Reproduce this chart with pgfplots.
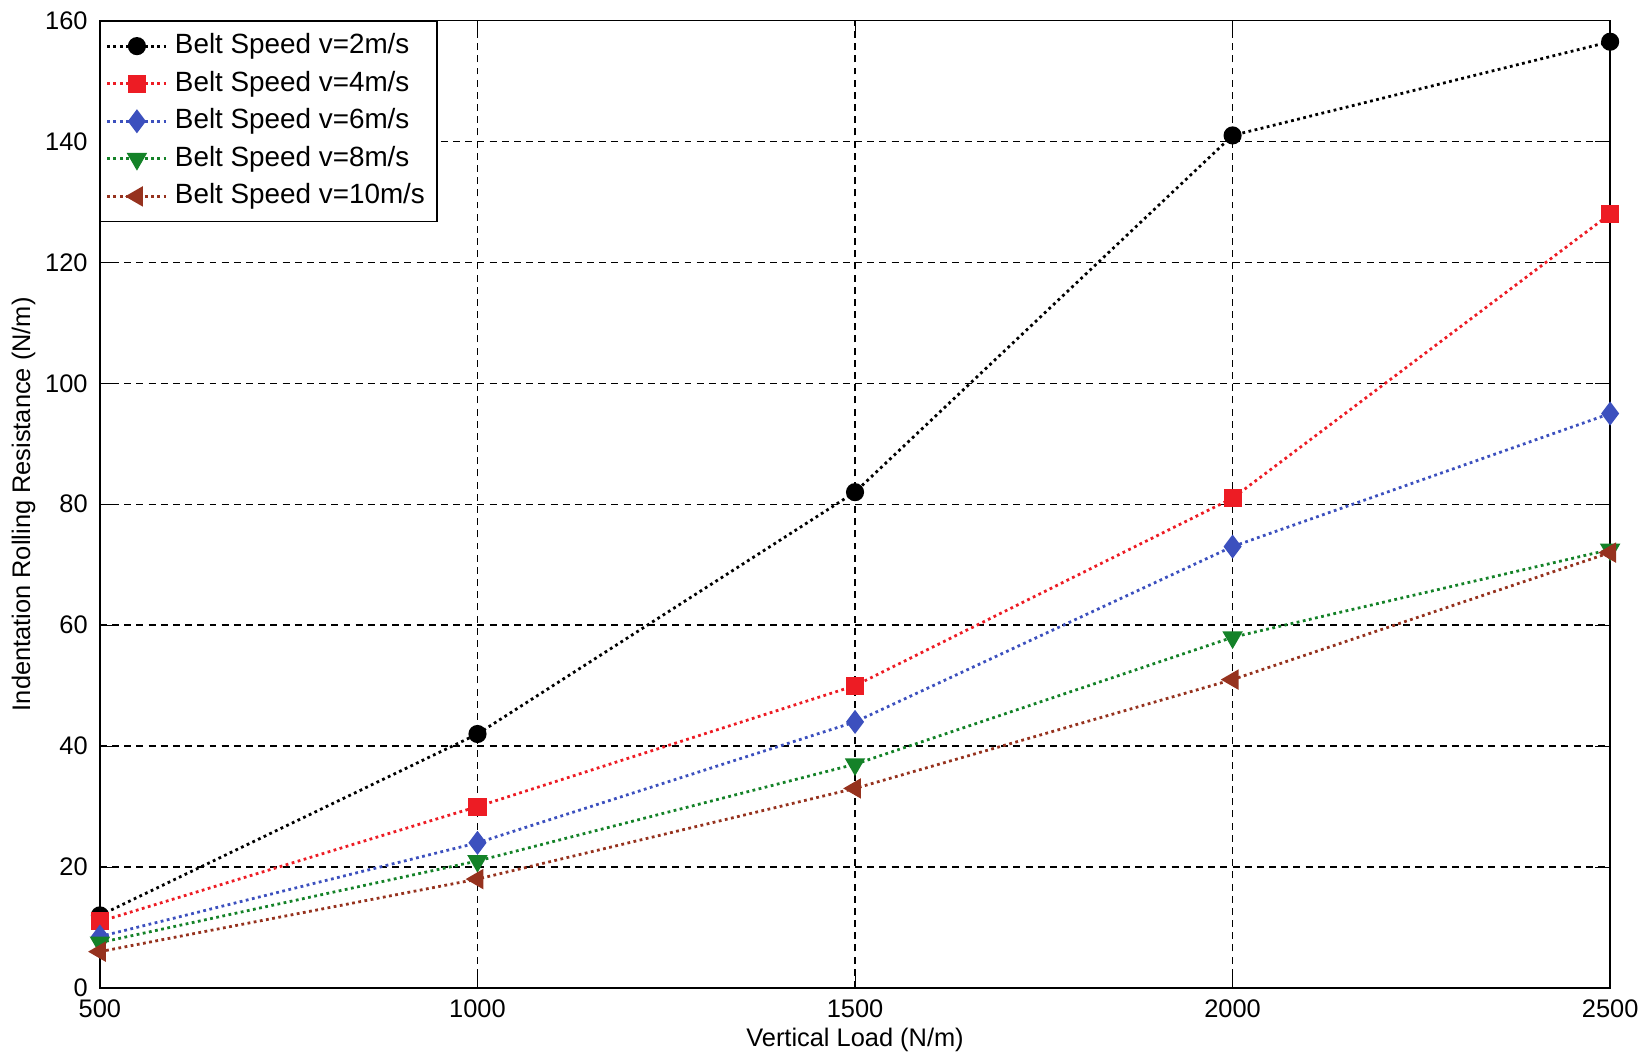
\documentclass[border=0pt]{standalone}
\usepackage{pgfplots}
\pgfplotsset{compat=1.18}
\usepackage{fontspec}
\setmainfont{Liberation Sans}
\definecolor{c1}{RGB}{0,0,0}
\definecolor{c2}{RGB}{237,28,36}
\definecolor{c3}{RGB}{60,80,190}
\definecolor{c4}{RGB}{20,130,40}
\definecolor{c5}{RGB}{150,50,30}
\begin{document}
\begin{tikzpicture}
\begin{axis}[
  scale only axis, width=434pt, height=278pt,
  xmin=500, xmax=2500, ymin=0, ymax=160,
  xtick={500,1000,1500,2000,2500}, ytick={0,20,...,160},
  grid=major, grid style={dash pattern=on 2pt off 1.5pt, black, thin},
  axis line style={black, thin},
  tick align=inside, tick style={black},
  /pgf/number format/assume math mode=true,
  /pgf/number format/set thousands separator={},
  tick label style={font=\fontsize{7.3}{8}\selectfont},
  label style={font=\fontsize{7.3}{8}\selectfont},
  xlabel={Vertical Load (N/m)}, ylabel={Indentation Rolling Resistance (N/m)},
  xlabel style={yshift=4pt}, ylabel style={yshift=-4pt},
  legend style={font=\fontsize{8}{9}\selectfont, draw=black, inner sep=1.5pt, row sep=-0.5pt, at={(0,1)}, anchor=north west},
  legend cell align=left,
  every axis plot/.append style={densely dotted, thick, mark options={solid, scale=1.1}},
]
\addplot[c1, mark=*] coordinates {(500,12)(1000,42)(1500,82)(2000,141)(2500,156.5)};
\addlegendentry{Belt Speed v=2m/s}
\addplot[c2, mark=square*] coordinates {(500,11)(1000,30)(1500,50)(2000,81)(2500,128)};
\addlegendentry{Belt Speed v=4m/s}
\addplot[c3, mark=diamond*, mark options={solid, scale=1.4}] coordinates {(500,8.5)(1000,24)(1500,44)(2000,73)(2500,95)};
\addlegendentry{Belt Speed v=6m/s}
\addplot[c4, mark=triangle*, mark options={solid, rotate=180, scale=1.3}] coordinates {(500,7.5)(1000,21)(1500,37)(2000,58)(2500,72.5)};
\addlegendentry{Belt Speed v=8m/s}
\addplot[c5, mark=triangle*, mark options={solid, rotate=90, scale=1.3}] coordinates {(500,6)(1000,18)(1500,33)(2000,51)(2500,72)};
\addlegendentry{Belt Speed v=10m/s}
\end{axis}
\end{tikzpicture}
\end{document}
